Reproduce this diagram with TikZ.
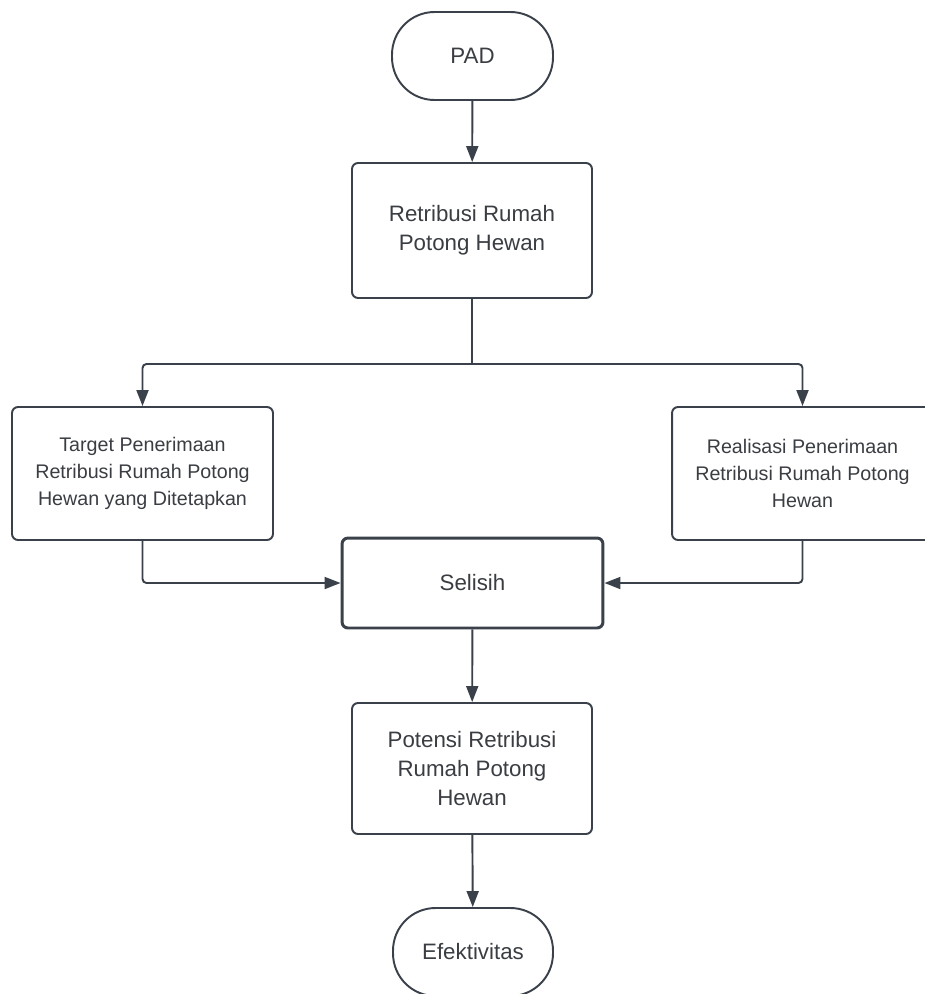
\documentclass[tikz,border=0pt]{standalone}
\usepackage{fontspec}
\setmainfont{Liberation Sans}
\usetikzlibrary{arrows.meta}
\definecolor{lineclr}{HTML}{3A414A}
\definecolor{txtclr}{HTML}{3A3D42}
\tikzset{
  box/.style={draw=lineclr, line width=1.1pt, rounded corners=0.12cm, align=center,
    text=txtclr, font=\fontsize{12.7}{16.3}\selectfont, inner sep=0pt},
  sidebox/.style={box, font=\fontsize{11.2}{15.3}\selectfont},
  term/.style={box, rounded corners=0.85cm},
  conn/.style={draw=lineclr, line width=1.1pt, rounded corners=0.08cm,
    -{Triangle[length=0.32cm, width=0.24cm]}},
  link/.style={draw=lineclr, line width=1.1pt, rounded corners=0.08cm}
}
\begin{document}
\begin{tikzpicture}[x=0.02cm, y=-0.02cm]
\useasboundingbox (0,0) rectangle (925,994);
% nodes
\node[term, minimum width=3.22cm, minimum height=1.76cm] (pad) at (472.5,56) {PAD};
\node[box, minimum width=4.8cm, minimum height=2.7cm] (ret) at (472,230.5) {Retribusi Rumah\\Potong Hewan};
\node[sidebox, minimum width=5.22cm, minimum height=2.66cm] (target) at (142.5,473.5) {Target Penerimaan\\Retribusi Rumah Potong\\Hewan yang Ditetapkan};
\node[sidebox, minimum width=5.22cm, minimum height=2.66cm] (real) at (802.5,473.5) {Realisasi Penerimaan\\Retribusi Rumah Potong\\Hewan};
\node[box, line width=1.7pt, minimum width=5.22cm, minimum height=1.8cm] (selisih) at (472.5,583) {Selisih};
\node[box, minimum width=4.8cm, minimum height=2.62cm] (pot) at (472,768.5) {Potensi Retribusi\\Rumah Potong\\Hewan};
\node[term, minimum width=3.2cm, minimum height=1.76cm] (efek) at (473,952) {Efektivitas};
\coordinate (split) at (472,364);
% connectors
\draw[conn] (pad) -- (ret);
\draw[link] (ret) -- (split);
\draw[conn] (split) -| (target.north);
\draw[conn] (split) -| (real.north);
\draw[conn] (target.south) |- (selisih.west);
\draw[conn] (real.south) |- (selisih.east);
\draw[conn] (selisih) -- (pot);
\draw[conn] (pot) -- (efek);
\end{tikzpicture}
\end{document}
